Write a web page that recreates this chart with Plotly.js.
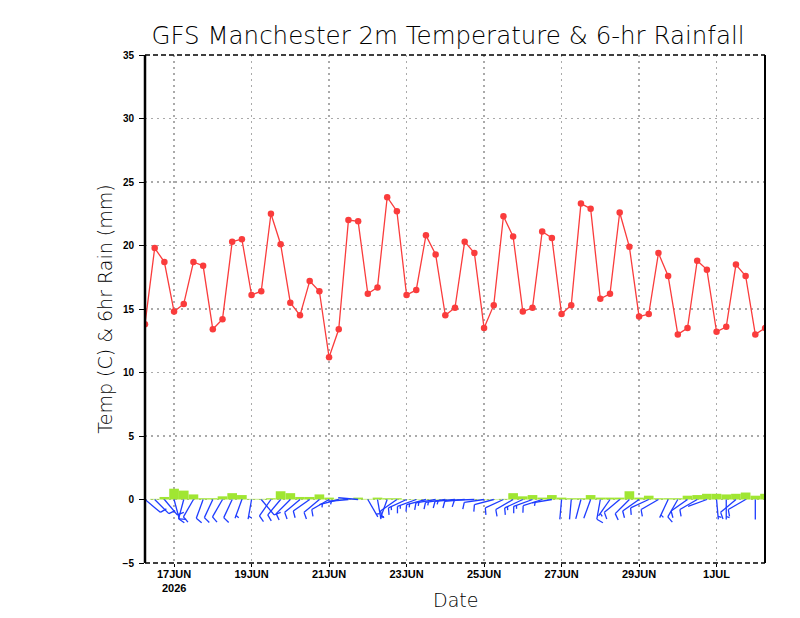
<!DOCTYPE html>
<html>
<head>
<meta charset="utf-8">
<script src="https://cdn.plot.ly/plotly-3.0.1.min.js"></script>
<style>html,body{margin:0;padding:0;background:#fff;}#chart{width:800px;height:618px;}</style>
</head>
<body>
<div id="chart"></div>
<script>
// ---- data (6-hourly, starting 16 Jun 2026 06Z) ----
const startTime = Date.UTC(2026, 5, 16, 6);
const stepHours = 6;
const temperature = [13.8,19.8,18.7,14.8,15.4,18.7,18.4,13.4,14.2,20.3,
  20.5,16.1,16.4,22.5,20.1,15.5,14.5,17.2,16.4,11.2,
  13.4,22.0,21.9,16.2,16.7,23.8,22.7,16.1,16.5,20.8,
  19.3,14.5,15.1,20.3,19.4,13.5,15.3,22.3,20.7,14.8,
  15.1,21.1,20.6,14.6,15.3,23.3,22.9,15.8,16.2,22.6,
  19.9,14.4,14.6,19.4,17.6,13.0,13.5,18.8,18.1,13.2,
  13.6,18.5,17.6,13.0,13.5];
const rain6h = [0,0.05,0.2,0.85,0.7,0.4,0.1,0.1,0.25,0.5,
  0.35,0.05,0.05,0.1,0.65,0.5,0.2,0.2,0.4,0.15,
  0.05,0.05,0.15,0.05,0.15,0.1,0.1,0.03,0.03,0.03,
  0.03,0.03,0.03,0.03,0.03,0.03,0.03,0.05,0.5,0.25,
  0.35,0.15,0.35,0.15,0.1,0.1,0.35,0.15,0.15,0.15,
  0.65,0.15,0.3,0.1,0.1,0.1,0.3,0.35,0.45,0.45,
  0.4,0.45,0.55,0.3,0.45];
const windDir = [130,135,140,165,195,210,200,205,210,205,
  200,190,140,215,220,225,230,235,230,240,
  255,265,275,150,170,200,235,245,250,255,
  260,262,265,265,268,262,255,245,240,245,
  250,252,260,185,185,195,200,190,215,230,
  225,235,245,240,205,210,235,240,250,175,
  180,230,240,180,180];
const windSpd = [10,10,10,10,10,10,10,10,10,10,
  5,5,10,10,10,10,10,10,10,10,
  5,5,2,5,5,5,10,15,15,15,
  15,15,15,10,10,10,10,10,10,15,
  15,10,5,3,3,3,3,10,5,10,
  10,10,10,10,5,10,10,10,2,5,
  5,10,10,3,3];
const tickDates = ['17JUN','19JUN','21JUN','23JUN','25JUN','27JUN','29JUN','1JUL'];
const tickTimes = [Date.UTC(2026,5,17),Date.UTC(2026,5,19),Date.UTC(2026,5,21),Date.UTC(2026,5,23),
  Date.UTC(2026,5,25),Date.UTC(2026,5,27),Date.UTC(2026,5,29),Date.UTC(2026,6,1)];
const yearLabel = '2026';

const times = temperature.map((_, i) => startTime + i * stepHours * 3600000);

// ---- layout geometry ----
const W = 800, H = 618;
const M = {l: 145, r: 35, t: 55, b: 55};
const xRange = [startTime, Date.UTC(2026, 6, 2, 6)];
const yRange = [-5, 35];
const msPerPx = (xRange[1] - xRange[0]) / (W - M.l - M.r);
const unitsPerPx = (yRange[1] - yRange[0]) / (H - M.t - M.b);

// ---- wind barbs (staff toward direction wind comes from) ----
const bx = [], by = [];
const STAFF = 20, FEATHER = 7, GAP = 3, ANG = 70 * Math.PI / 180;
function seg(x0, y0, dx1, dy1, dx2, dy2) {
  bx.push(x0 + dx1 * msPerPx, x0 + dx2 * msPerPx, null);
  by.push(y0 + dy1 * unitsPerPx, y0 + dy2 * unitsPerPx, null);
}
times.forEach((t, i) => {
  const th = windDir[i] * Math.PI / 180;
  const ux = Math.sin(th), uy = Math.cos(th);
  const px = -uy, py = ux;
  seg(t, 0, 0, 0, STAFF * ux, STAFF * uy);
  const s = windSpd[i];
  let pos = STAFF;
  const full = Math.floor(s / 10);
  const half = (s % 10) >= 5 ? 1 : 0;
  for (let f = 0; f < full; f++) {
    const sx = pos * ux, sy = pos * uy;
    seg(t, 0, sx, sy, sx + FEATHER * (px * Math.sin(ANG) + ux * Math.cos(ANG)),
                      sy + FEATHER * (py * Math.sin(ANG) + uy * Math.cos(ANG)));
    pos -= GAP;
  }
  if (half) {
    if (full === 0) pos -= GAP;
    const sx = pos * ux, sy = pos * uy;
    seg(t, 0, sx, sy, sx + FEATHER / 2 * (px * Math.sin(ANG) + ux * Math.cos(ANG)),
                      sy + FEATHER / 2 * (py * Math.sin(ANG) + uy * Math.cos(ANG)));
  }
});

const traces = [
  {type: 'bar', x: times, y: rain6h, width: stepHours * 3600000,
   marker: {color: 'rgb(160,230,50)', line: {width: 0}}, hoverinfo: 'skip'},
  {type: 'scatter', mode: 'lines', x: bx, y: by,
   line: {color: 'rgb(30,60,255)', width: 1.3}, hoverinfo: 'skip'},
  {type: 'scatter', mode: 'lines+markers', x: times, y: temperature,
   line: {color: 'rgb(250,60,60)', width: 1.3},
   marker: {color: 'rgb(250,60,60)', size: 6.5, symbol: 'circle'}}
];

const thin = '"DejaVu Sans ExtraLight", "DejaVu Sans", "Liberation Sans", sans-serif';
const boldTick = '"Liberation Sans Narrow", "Liberation Sans", Arial';
const gridDash = '1.5px,4.5px';
const layout = {
  width: W, height: H,
  margin: M,
  paper_bgcolor: '#fff', plot_bgcolor: '#fff',
  showlegend: false,
  title: {text: 'GFS Manchester 2m Temperature &amp; 6-hr Rainfall',
          font: {family: thin, size: 24.5, color: '#000', weight: 200},
          x: 0.56, xanchor: 'center', y: 0.943, yanchor: 'middle'},
  xaxis: {
    type: 'date', range: xRange,
    tickmode: 'array', tickvals: tickTimes, ticktext: tickDates,
    ticks: 'outside', ticklen: 3, tickcolor: '#000', tickwidth: 1,
    ticklabelstandoff: -2,
    tickfont: {family: boldTick, size: 11, color: '#000', weight: 'bold'},
    showgrid: true, gridcolor: 'rgb(170,170,170)', griddash: gridDash, gridwidth: 1.6,
    showline: false, zeroline: false
  },
  yaxis: {
    range: yRange, tickmode: 'linear', tick0: -5, dtick: 5,
    ticks: 'outside', ticklen: 5, tickcolor: '#000', tickwidth: 1,
    ticklabelstandoff: 3,
    tickfont: {family: '"Liberation Sans", Arial', size: 10, color: '#000', weight: 'bold'},
    showgrid: true, gridcolor: 'rgb(170,170,170)', griddash: gridDash, gridwidth: 1.6,
    showline: false, zeroline: false,
    title: {text: 'Temp (C) &amp; 6hr Rain (mm)', font: {family: thin, size: 19, color: '#000', weight: 200}, standoff: 4}
  },
  annotations: [
    {text: yearLabel, x: tickTimes[0], xref: 'x', y: 0, yref: 'paper', yshift: -25,
     xanchor: 'center', yanchor: 'middle', showarrow: false,
     font: {family: boldTick, size: 11, color: '#000', weight: 'bold'}},
    {text: 'Date', x: 0.5, xref: 'paper', y: 0, yref: 'paper', yshift: -37,
     xanchor: 'center', yanchor: 'middle', showarrow: false,
     font: {family: thin, size: 19, color: '#000', weight: 200}}
  ],
  shapes: [
    {type: 'line', xref: 'paper', yref: 'paper', x0: 0, x1: 0, y0: 0, y1: 1, line: {color: '#000', width: 2.5}},
    {type: 'line', xref: 'paper', yref: 'paper', x0: 1, x1: 1, y0: 0, y1: 1, line: {color: '#000', width: 2}},
    {type: 'line', xref: 'paper', yref: 'paper', x0: 0, x1: 1, y0: 1, y1: 1, line: {color: '#000', width: 1.5, dash: '5px,3px'}},
    {type: 'line', xref: 'paper', yref: 'paper', x0: 0, x1: 1, y0: 0, y1: 0, line: {color: '#000', width: 1.5, dash: '5px,3px'}}
  ]
};

Plotly.newPlot('chart', traces, layout, {staticPlot: true, displayModeBar: false});
</script>
</body>
</html>
